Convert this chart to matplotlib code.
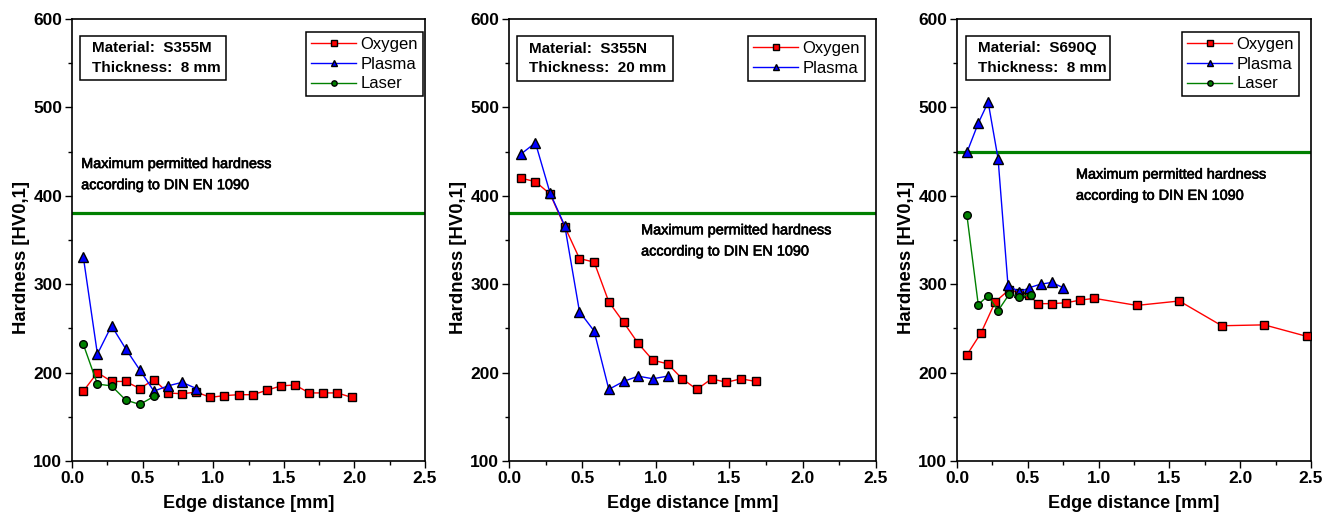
import matplotlib
matplotlib.use("Agg")
import matplotlib.pyplot as plt
from matplotlib.ticker import MultipleLocator, FormatStrFormatter
from matplotlib.patches import Rectangle
import matplotlib.patheffects as pe

plt.rcParams['font.family'] = ['Liberation Sans', 'DejaVu Sans']

# ---------------- data ----------------
# Panel 1: S355M, 8 mm
p1_oxy_x = [0.08, 0.18, 0.28, 0.38, 0.48, 0.58, 0.68, 0.78, 0.88, 0.98,
            1.08, 1.18, 1.28, 1.38, 1.48, 1.58, 1.68, 1.78, 1.88, 1.98]
p1_oxy_y = [179, 200, 190, 190, 182, 192, 177, 176, 178, 172,
            174, 175, 175, 180, 185, 186, 177, 177, 177, 172]
p1_pla_x = [0.08, 0.18, 0.28, 0.38, 0.48, 0.58, 0.68, 0.78, 0.88]
p1_pla_y = [331, 221, 253, 227, 203, 179, 185, 189, 182]
p1_las_x = [0.08, 0.18, 0.28, 0.38, 0.48, 0.58]
p1_las_y = [232, 187, 185, 169, 164, 173]

# Panel 2: S355N, 20 mm
p2_oxy_x = [0.08, 0.18, 0.28, 0.38, 0.48, 0.58, 0.68, 0.78, 0.88, 0.98,
            1.08, 1.18, 1.28, 1.38, 1.48, 1.58, 1.68]
p2_oxy_y = [420, 416, 402, 365, 329, 325, 280, 257, 233, 214,
            210, 193, 181, 193, 189, 193, 190]
p2_pla_x = [0.08, 0.18, 0.28, 0.38, 0.48, 0.58, 0.68, 0.78, 0.88, 0.98, 1.08]
p2_pla_y = [447, 460, 403, 366, 269, 247, 181, 190, 196, 193, 196]

# Panel 3: S690Q, 8 mm
p3_oxy_x = [0.07, 0.17, 0.27, 0.37, 0.44, 0.51, 0.57, 0.67, 0.77, 0.87,
            0.97, 1.27, 1.57, 1.87, 2.17, 2.47]
p3_oxy_y = [220, 245, 280, 294, 290, 288, 278, 278, 279, 282,
            284, 276, 281, 253, 254, 241]
p3_pla_x = [0.07, 0.15, 0.22, 0.29, 0.36, 0.44, 0.51, 0.59, 0.67, 0.75]
p3_pla_y = [449, 482, 506, 442, 299, 291, 296, 300, 302, 296]
p3_las_x = [0.07, 0.15, 0.22, 0.29, 0.37, 0.44, 0.52]
p3_las_y = [378, 277, 287, 270, 289, 286, 288]

limit_values = [380, 380, 450]
materials = ["Material:  S355M\nThickness:  8 mm",
             "Material:  S355N\nThickness:  20 mm",
             "Material:  S690Q\nThickness:  8 mm"]
annotation = "Maximum permitted hardness\naccording to DIN EN 1090"
xlabel = "Edge distance [mm]"
ylabel = "Hardness [HV0,1]"

# ---------------- figure ----------------
fig = plt.figure(figsize=(13.38, 5.15), dpi=100)
W, H = 1338.0, 515.0
ax_px = [(72, 425), (509, 876), (957, 1311)]
top_px, bot_px = 19, 461
axes = []
for (l, r) in ax_px:
    ax = fig.add_axes([l / W, 1 - bot_px / H, (r - l) / W, (bot_px - top_px) / H])
    axes.append(ax)

RED, BLUE, GREEN = '#ff0000', '#0000ff', '#008000'
mk = dict(markeredgecolor='black', markeredgewidth=1.0, linewidth=1.0)

series = [
    [(p1_oxy_x, p1_oxy_y, RED, 's', 'Oxygen'),
     (p1_pla_x, p1_pla_y, BLUE, '^', 'Plasma'),
     (p1_las_x, p1_las_y, GREEN, 'o', 'Laser')],
    [(p2_oxy_x, p2_oxy_y, RED, 's', 'Oxygen'),
     (p2_pla_x, p2_pla_y, BLUE, '^', 'Plasma')],
    [(p3_oxy_x, p3_oxy_y, RED, 's', 'Oxygen'),
     (p3_pla_x, p3_pla_y, BLUE, '^', 'Plasma'),
     (p3_las_x, p3_las_y, GREEN, 'o', 'Laser')],
]

# layout (pixels): material boxes (left, top, right, bottom)
box_px = [(80, 36, 226, 80), (517, 36, 673, 81), (966, 36, 1110, 80)]
ann_pos = [(0.065, 424), (0.90, 349), (0.84, 412)]
# legend upper-right corner in pixels
leg_px = [(423, 32), (865, 36), (1299, 32)]

for i, ax in enumerate(axes):
    l, r = ax_px[i]
    aw, ah = r - l, bot_px - top_px

    def fx(px):
        return (px - l) / aw

    def fy(py):
        return (bot_px - py) / ah

    ax.axhline(limit_values[i], color=GREEN, linewidth=2.3, zorder=1)
    handles = []
    for (x, y, c, m, lab) in series[i]:
        ms = 5.5 if m == 's' else (6.5 if m == '^' else 5.5)
        h, = ax.plot(x, y, color=c, marker=m, markerfacecolor=c,
                     markersize=ms, label=lab, zorder=3, **mk)
        handles.append(h)
    ax.set_xlim(0, 2.5)
    ax.set_ylim(100, 600)
    ax.xaxis.set_major_locator(MultipleLocator(0.5))
    ax.xaxis.set_minor_locator(MultipleLocator(0.25))
    ax.yaxis.set_major_locator(MultipleLocator(100))
    ax.yaxis.set_minor_locator(MultipleLocator(50))
    ax.xaxis.set_major_formatter(FormatStrFormatter('%.1f'))
    ax.tick_params(which='major', direction='out', length=5, width=1,
                   labelsize=12.5, pad=2)
    ax.tick_params(which='minor', direction='out', length=3, width=1)
    for lbl in ax.get_xticklabels() + ax.get_yticklabels():
        lbl.set_fontweight('bold')
    for s in ax.spines.values():
        s.set_linewidth(1.2)
    ax.set_xlabel(xlabel, fontsize=13, fontweight='bold', labelpad=7)
    ax.set_ylabel(ylabel, fontsize=13.3, fontweight='bold')
    ax.yaxis.set_label_coords(-42.0 / aw, 0.46)

    # material box
    bl, bt, br, bb = box_px[i]
    ax.add_patch(Rectangle((fx(bl), fy(bb)), fx(br) - fx(bl), fy(bt) - fy(bb),
                           transform=ax.transAxes, facecolor='white',
                           edgecolor='black', linewidth=1.1, zorder=4))
    ax.text(fx(bl + 12), fy((bt + bb) / 2), materials[i], transform=ax.transAxes,
            ha='left', va='center', fontsize=11, fontweight='bold',
            linespacing=1.5, zorder=5)

    # annotation
    axx, axy = ann_pos[i]
    ax.text(axx, axy, annotation, ha='left', va='center', fontsize=10.4,
            linespacing=1.65,
            path_effects=[pe.withStroke(linewidth=0.45, foreground='black')])

    lx, ly = leg_px[i]
    leg = ax.legend(handles=handles, loc='upper right',
                    bbox_to_anchor=(fx(lx), fy(ly)), bbox_transform=ax.transAxes,
                    fontsize=12, frameon=True, fancybox=False,
                    edgecolor='black', framealpha=1.0,
                    handlelength=2.7, handletextpad=0.25, borderpad=0.3,
                    labelspacing=0.28, markerscale=0.7, borderaxespad=0.0)
    leg.get_frame().set_linewidth(1.1)

fig.savefig('out.png', dpi=100)
